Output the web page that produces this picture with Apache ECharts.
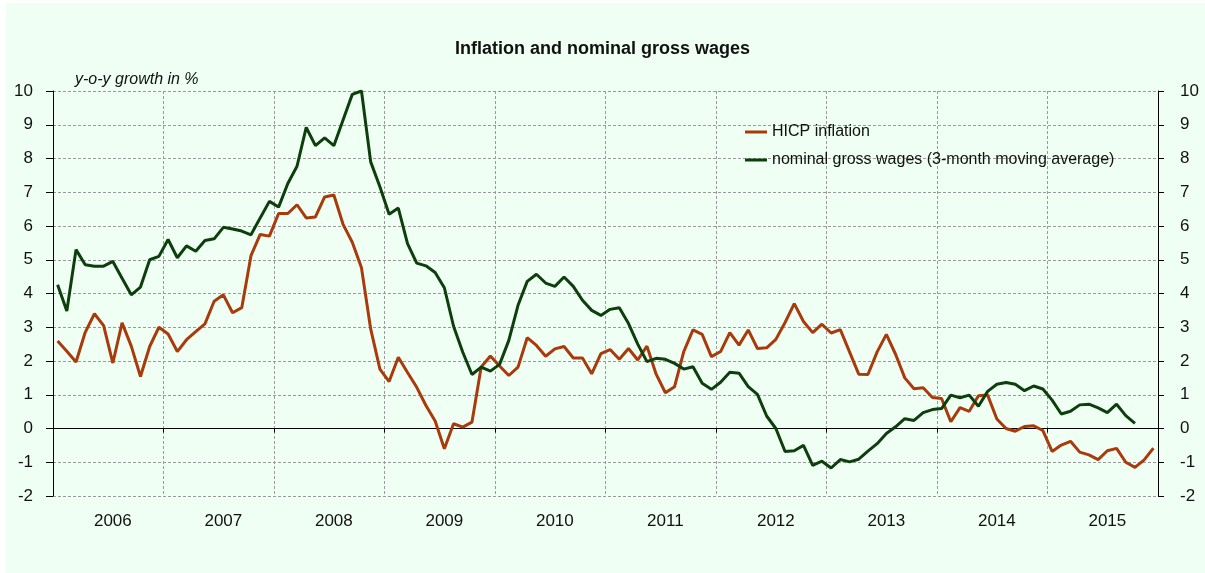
<!DOCTYPE html>
<html>
<head>
<meta charset="utf-8">
<script src="https://cdn.jsdelivr.net/npm/echarts@6/dist/echarts.min.js"></script>
<style>
  html, body { margin: 0; padding: 0; background: #fff; }
  #wrap { position: relative; width: 1205px; height: 573px; }
  #bg { position: absolute; left: 6px; top: 3px; width: 1199px; height: 570px; background: #f0fff4; }
  #chart { position: absolute; left: 0; top: 0; width: 1205px; height: 573px; }
</style>
</head>
<body>
<div id="wrap">
  <div id="bg"></div>
  <div id="chart"></div>
</div>
<script>
// =========================
// DATA (monthly, Jan 2006 - Dec 2015)
// =========================
var years = ['2006', '2007', '2008', '2009', '2010', '2011', '2012', '2013', '2014', '2015'];

// HICP inflation, y-o-y %
var hicp = [
  2.59, 2.29, 1.97, 2.85, 3.40, 3.05, 1.94, 3.13, 2.44, 1.54, 2.43, 3.00,
  2.80, 2.28, 2.63, 2.87, 3.10, 3.77, 3.96, 3.43, 3.58, 5.12, 5.75, 5.70,
  6.37, 6.37, 6.63, 6.24, 6.27, 6.86, 6.92, 6.05, 5.52, 4.76, 2.95, 1.76,
  1.39, 2.11, 1.66, 1.22, 0.68, 0.22, -0.60, 0.14, 0.04, 0.19, 1.82, 2.15,
  1.85, 1.57, 1.82, 2.69, 2.46, 2.14, 2.36, 2.43, 2.09, 2.09, 1.62, 2.22,
  2.34, 2.05, 2.37, 2.03, 2.44, 1.61, 1.06, 1.24, 2.28, 2.92, 2.79, 2.13,
  2.28, 2.84, 2.47, 2.92, 2.37, 2.39, 2.64, 3.14, 3.70, 3.17, 2.84, 3.09,
  2.83, 2.93, 2.27, 1.61, 1.60, 2.27, 2.79, 2.20, 1.50, 1.18, 1.21, 0.92,
  0.89, 0.20, 0.62, 0.51, 0.97, 0.99, 0.28, 0.00, -0.08, 0.06, 0.08, -0.06,
  -0.68, -0.49, -0.38, -0.70, -0.78, -0.92, -0.66, -0.59, -1.00, -1.15, -0.93, -0.58
];

// nominal gross wages, 3-month moving average, y-o-y %
var wages = [
  4.26, 3.48, 5.30, 4.85, 4.81, 4.81, 4.95, 4.45, 3.96, 4.19, 5.00, 5.10,
  5.60, 5.06, 5.41, 5.25, 5.57, 5.62, 5.96, 5.91, 5.85, 5.74, 6.24, 6.73,
  6.56, 7.26, 7.77, 8.92, 8.38, 8.61, 8.38, 9.14, 9.90, 10.0, 7.90, 7.16,
  6.35, 6.53, 5.48, 4.90, 4.82, 4.62, 4.17, 3.03, 2.26, 1.60, 1.82, 1.70,
  1.90, 2.61, 3.65, 4.36, 4.57, 4.31, 4.21, 4.49, 4.21, 3.80, 3.50, 3.35,
  3.53, 3.58, 3.11, 2.50, 1.98, 2.08, 2.05, 1.93, 1.76, 1.83, 1.34, 1.16,
  1.37, 1.67, 1.64, 1.24, 1.01, 0.37, 0.00, -0.68, -0.66, -0.50, -1.09, -0.97,
  -1.17, -0.92, -0.99, -0.91, -0.67, -0.45, -0.15, 0.05, 0.29, 0.24, 0.47, 0.56,
  0.59, 0.99, 0.91, 0.99, 0.66, 1.10, 1.31, 1.36, 1.31, 1.12, 1.26, 1.17,
  0.84, 0.43, 0.51, 0.70, 0.72, 0.61, 0.47, 0.72, 0.38, 0.15
];

var yTicks = { min: -2, max: 10, step: 1 };

// month labels "2006-01" ... "2015-12"
var months = [];
years.forEach(function(y) {
  for (var m = 1; m <= 12; m++) {
    months.push(y + '-' + (m < 10 ? '0' + m : m));
  }
});

var fontName = "'Liberation Sans', Arial, sans-serif";
var gridColor = '#9a9a9a';

function yearStart(i) { return i % 12 === 0; }
function yearMid(i) { return i % 12 === 6; }

var chart = echarts.init(document.getElementById('chart'));

var option = {
  backgroundColor: 'transparent',
  animation: false,
  textStyle: { fontFamily: fontName },
  title: {
    text: 'Inflation and nominal gross wages',
    left: 'center',
    top: 35,
    textStyle: { fontSize: 18, fontWeight: 'bold', color: '#111', fontFamily: fontName }
  },
  graphic: [{
    type: 'text',
    left: 75,
    top: 72,
    style: {
      text: 'y-o-y growth in %',
      font: 'italic 16px ' + fontName,
      fill: '#111'
    }
  }],
  legend: {
    orient: 'vertical',
    left: 740,
    top: 119,
    itemWidth: 22,
    itemHeight: 3,
    itemGap: 12,
    icon: 'rect',
    textStyle: { fontSize: 16, color: '#111', fontFamily: fontName },
    data: ['HICP inflation', 'nominal gross wages (3-month moving average)']
  },
  grid: { left: 53, right: 47, top: 91, bottom: 77 },
  xAxis: [
    {
      type: 'category',
      data: months,
      boundaryGap: true,
      position: 'bottom',
      axisLine: { show: true, onZero: true, lineStyle: { color: '#000', width: 1 } },
      axisTick: { show: true, interval: yearStart, length: 4, lineStyle: { color: '#000' } },
      axisLabel: { show: false },
      splitLine: {
        show: true,
        interval: yearStart,
        lineStyle: { color: gridColor, type: [3, 2], width: 1 }
      }
    },
    {
      type: 'category',
      data: months,
      boundaryGap: true,
      position: 'bottom',
      axisLine: { show: false, onZero: false },
      axisTick: { show: false },
      splitLine: { show: false },
      axisLabel: {
        interval: yearMid,
        margin: 17,
        fontSize: 17,
        color: '#111',
        formatter: function(v) { return v.slice(0, 4); }
      }
    }
  ],
  yAxis: [
    {
      type: 'value',
      position: 'left',
      min: yTicks.min,
      max: yTicks.max,
      interval: yTicks.step,
      axisLine: { show: true, lineStyle: { color: '#000', width: 1 } },
      axisTick: { show: true, length: 7, lineStyle: { color: '#000' } },
      axisLabel: { margin: 20, fontSize: 17, color: '#111' },
      splitLine: { show: true, lineStyle: { color: gridColor, type: [3, 2], width: 1 } }
    },
    {
      type: 'value',
      position: 'right',
      min: yTicks.min,
      max: yTicks.max,
      interval: yTicks.step,
      axisLine: { show: true, lineStyle: { color: '#000', width: 1 } },
      axisTick: { show: true, length: 6, lineStyle: { color: '#000' } },
      axisLabel: { margin: 22, fontSize: 17, color: '#111' },
      splitLine: { show: false }
    }
  ],
  series: [
    {
      name: 'HICP inflation',
      type: 'line',
      data: hicp,
      xAxisIndex: 0,
      yAxisIndex: 0,
      symbol: 'none',
      color: '#a83a0c',
      lineStyle: { width: 3, color: '#a83a0c' },
      z: 3
    },
    {
      name: 'nominal gross wages (3-month moving average)',
      type: 'line',
      data: wages,
      xAxisIndex: 0,
      yAxisIndex: 0,
      symbol: 'none',
      color: '#0c3f0c',
      lineStyle: { width: 3, color: '#0c3f0c' },
      z: 4
    }
  ]
};

chart.setOption(option);
</script>
</body>
</html>
